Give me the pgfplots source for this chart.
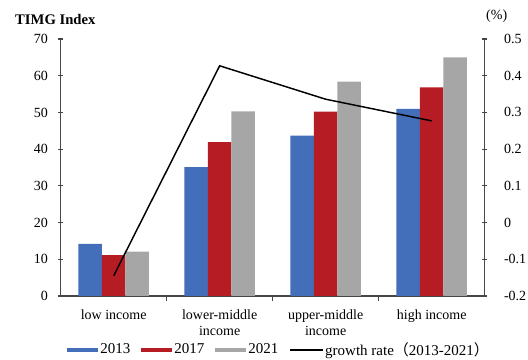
\documentclass[border=0pt]{standalone}
\usepackage{pgfplots}
\pgfplotsset{compat=1.18}
\usepackage{fontspec}
\setmainfont{Liberation Serif}
\newfontfamily\cjk{Noto Sans CJK SC}
\definecolor{cblue}{RGB}{66,110,186}
\definecolor{cred}{RGB}{181,28,36}
\definecolor{cgray}{RGB}{166,166,166}
\definecolor{caxis}{RGB}{70,70,70}
\begin{document}
\begin{tikzpicture}
\path[use as bounding box] (-45.5pt,-48pt) rectangle (350.5pt,222pt);
\begin{axis}[
  at={(0pt,0pt)}, anchor=south west,
  scale only axis, width=318pt, height=192.75pt,
  xmin=-0.5, xmax=3.5, ymin=0, ymax=70,
  axis x line*=bottom, axis y line*=left,
  axis line style={caxis, line width=0.8pt, -},
  every tick/.style={caxis, line width=0.8pt},
  tick align=center,
  major tick length=4pt, minor tick length=4pt,
  ytick={0,10,20,30,40,50,60,70},
  xtick={0,1,2,3},
  xticklabels={low income, lower-middle\\income, upper-middle\\income, high income},
  major x tick style={draw=none},
  minor xtick={0.5,1.5,2.5},
  xticklabel style={align=center, font=\fontsize{10.5pt}{12.5pt}\selectfont, yshift=-2.5pt},
  yticklabel style={font=\fontsize{10.5pt}{12pt}\selectfont, xshift=-4pt},
  /pgf/number format/assume math mode=true,
  ybar=0pt, bar width=17.6pt,
  legend columns=4,
  legend style={at={(0.515,-0.21)}, anchor=center, draw=none, fill=none,
    font=\fontsize{11.25pt}{12pt}\selectfont,
    nodes={inner sep=1.5pt},
    /tikz/every even column/.append style={column sep=6.5pt}},
  legend cell align=left,
]
\addplot[fill=cblue, draw=none, legend image code/.code={\fill[cblue] (0pt,-1.8pt) rectangle (23.5pt,1.8pt);}]
  coordinates {(0,14.2) (1,35.1) (2,43.7) (3,51.0)};
\addlegendentry{2013}
\addplot[fill=cred, draw=none, legend image code/.code={\fill[cred] (0pt,-1.8pt) rectangle (23.5pt,1.8pt);}]
  coordinates {(0,11.1) (1,41.9) (2,50.2) (3,56.8)};
\addlegendentry{2017}
\addplot[fill=cgray, draw=none, legend image code/.code={\fill[cgray] (0pt,-1.8pt) rectangle (23.5pt,1.8pt);}]
  coordinates {(0,12.1) (1,50.3) (2,58.4) (3,65.0)};
\addlegendentry{2021}
\addlegendimage{black, line width=1.1pt, legend image code/.code={\draw[black, line width=1.1pt] (0pt,0pt) -- (24.5pt,0pt);}}
\addlegendentry{growth rate{\cjk （}2013-2021{\cjk ）}}
\end{axis}
\begin{axis}[
  at={(0pt,0pt)}, anchor=south west,
  scale only axis, width=318pt, height=192.75pt,
  xmin=-0.5, xmax=3.5, ymin=-0.2, ymax=0.5,
  axis x line=none, axis y line*=right,
  axis line style={caxis, line width=0.8pt, -},
  every tick/.style={caxis, line width=0.8pt},
  tick align=center, major tick length=4pt,
  ytick={-0.2,-0.1,0,0.1,0.2,0.3,0.4,0.5},
  yticklabels={-0.2,-0.1,0,0.1,0.2,0.3,0.4,0.5},
  yticklabel style={font=\fontsize{10.5pt}{12pt}\selectfont, xshift=9pt},
]
\addplot[black, line width=1.1pt, mark=none] coordinates {(0,-0.145) (1,0.427) (2,0.336) (3,0.277)};
\end{axis}
\node[anchor=west, inner sep=0pt, font=\bfseries\fontsize{11pt}{12pt}\selectfont] at (-34.3pt,207.75pt) {TIMG Index};
\node[font=\fontsize{10.5pt}{12pt}\selectfont] at (327pt,210pt) {(\%)};
\end{tikzpicture}
\end{document}
